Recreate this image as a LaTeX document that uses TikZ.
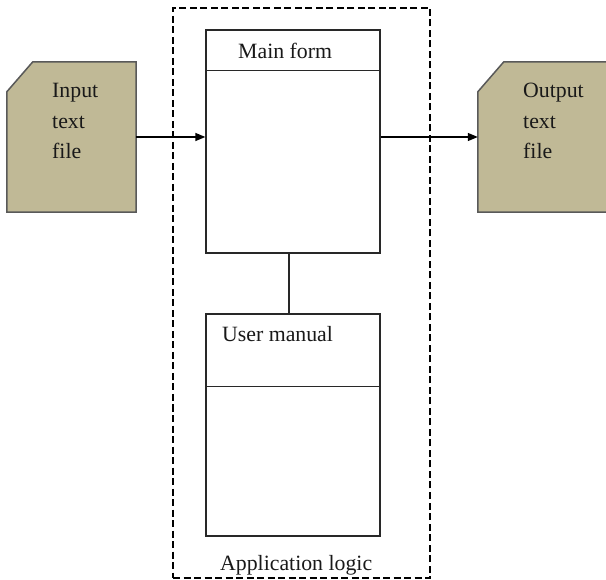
\documentclass[tikz,border=0pt]{standalone}
\usepackage{fontspec}
\setmainfont{Liberation Serif}
\usetikzlibrary{arrows.meta}
\definecolor{filetan}{RGB}{192,185,150}
\definecolor{lineg}{RGB}{40,40,40}
\tikzset{
  formbox/.style={draw=lineg, line width=1.3pt, inner sep=0pt, fill=white},
  filebox/.style={draw=none, inner sep=0pt, minimum width=129pt, minimum height=150pt},
  fileshape/.style={fill=filetan, draw=black!65, line width=1.5pt},
  appbox/.style={draw=black, line width=1.3pt, dash pattern=on 7pt off 3.5pt, inner sep=0pt},
  lbl/.style={anchor=base west, inner sep=0pt, font=\fontsize{21.8}{30}\selectfont, text=black!90},
  flow/.style={draw=black, line width=1.3pt, -{Triangle[length=10pt,width=8pt]}},
  link/.style={draw=lineg, line width=1.3pt}
}
\begin{document}
\begin{tikzpicture}[x=1pt,y=-1pt]
\useasboundingbox (0,0) rectangle (606,580);
% application logic container
\node[appbox, minimum width=257pt, minimum height=570pt] (app) at (301.5,293) {};
\node[lbl] (applbl) at (220,570) {Application logic};
% main form
\node[formbox, minimum width=174pt, minimum height=223pt] (main) at (293,141.5) {};
\draw[link] ([yshift=-41pt]main.north west) -- ([yshift=-41pt]main.north east);
\node[lbl] (mainlbl) at (238,59) {Main form};
% user manual
\node[formbox, minimum width=174pt, minimum height=222pt] (man) at (293,425) {};
\draw[link] ([yshift=-73pt]man.north west) -- ([yshift=-73pt]man.north east);
\node[lbl] (manlbl) at (222,342) {User manual};
\draw[link] ([xshift=-4pt]main.south) -- ([xshift=-4pt]man.north);
% input file
\node[filebox] (in) at (71.5,137) {};
\draw[fileshape] (in.south west) -- (in.south east) -- (in.north east)
  -- ([xshift=26pt]in.north west) -- ([yshift=-30pt]in.north west) -- cycle;
\node[lbl] (inA) at (52,98) {Input};
\node[lbl] (inB) at (52,129) {text};
\node[lbl] (inC) at (52,159) {file};
% output file
\node[filebox, minimum width=132pt] (out) at (544,137) {};
\draw[fileshape] (out.south west) -- (out.south east) -- (out.north east)
  -- ([xshift=26pt]out.north west) -- ([yshift=-30pt]out.north west) -- cycle;
\node[lbl] (outA) at (523,98) {Output};
\node[lbl] (outB) at (523,129) {text};
\node[lbl] (outC) at (523,159) {file};
% flows
\draw[flow] (in.east) -- (in.east -| main.west);
\draw[flow] (main.east |- out.west) -- (out.west);
\end{tikzpicture}
\end{document}
